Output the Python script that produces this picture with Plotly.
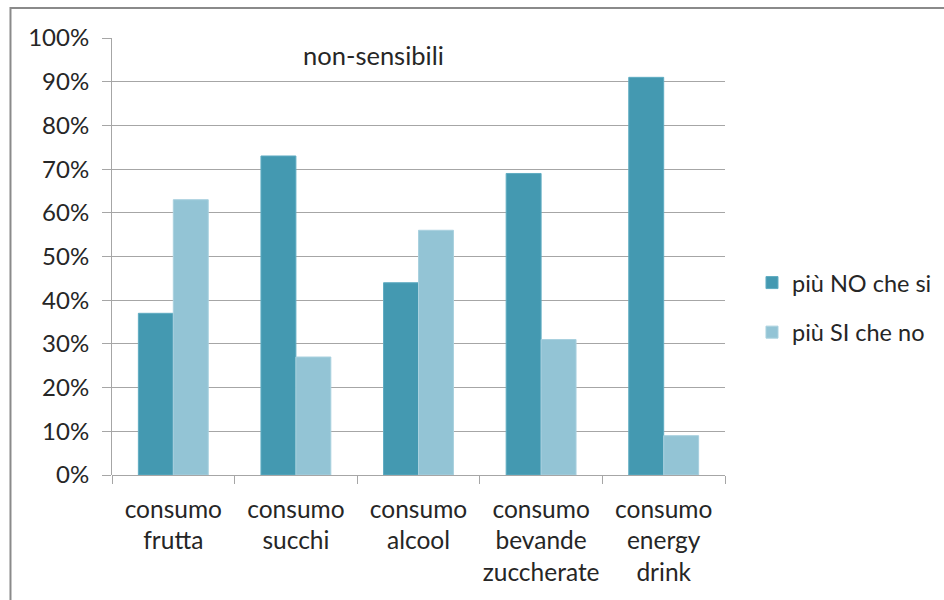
import plotly.graph_objects as go

# Categories and shares for the "non-sensibili" group
categories = [
    "consumo<br>frutta",
    "consumo<br>succhi",
    "consumo<br>alcool",
    "consumo<br>bevande<br>zuccherate",
    "consumo<br>energy<br>drink",
]
piu_no_che_si = [0.37, 0.73, 0.44, 0.69, 0.91]
piu_si_che_no = [0.63, 0.27, 0.56, 0.31, 0.09]
series_names = ["più NO che si", "più SI che no"]
y_ticks = [i / 10 for i in range(11)]

FONT = "Lato"
TEXT = "#262626"
GRID = "#A6A6A6"

fig = go.Figure()
fig.add_trace(go.Bar(
    x=categories, y=piu_no_che_si, name=series_names[0], legendgroup="a",
    marker=dict(color="#4499B1", line=dict(color="#5FACC2", width=1)),
))
fig.add_trace(go.Bar(
    x=categories, y=piu_si_che_no, name=series_names[1], legendgroup="b",
    marker=dict(color="#93C4D5", line=dict(color="#A9D1DF", width=1)),
))

fig.update_layout(
    width=944, height=600,
    margin=dict(l=112, r=219, t=38, b=125, autoexpand=False),
    paper_bgcolor="white", plot_bgcolor="white",
    font=dict(family=FONT, size=24, color=TEXT),
    barmode="group", bargap=0.43, bargroupgap=0,
    showlegend=True,
    legend=dict(
        xref="container", yref="container",
        x=0.7966, xanchor="left", y=0.487, yanchor="middle",
        font=dict(family=FONT, size=23.5, color=TEXT),
        tracegroupgap=16, bgcolor="rgba(0,0,0,0)",
    ),
    xaxis=dict(
        showgrid=False, showline=False, zeroline=False,
        ticks="outside", ticklen=8, tickcolor=GRID, tickwidth=1,
        tickson="boundaries", tickangle=0, automargin=False,
        tickfont=dict(family=FONT, size=24.5, color=TEXT),
        ticklabelstandoff=17,
    ),
    yaxis=dict(
        range=[0, 1], tickvals=y_ticks, tickformat=".0%",
        showgrid=True, gridcolor=GRID, gridwidth=1,
        showline=True, linecolor=GRID, linewidth=1,
        zeroline=True, zerolinecolor=GRID, zerolinewidth=1,
        ticks="outside", ticklen=9, tickcolor=GRID, tickwidth=1,
        automargin=False,
        tickfont=dict(family=FONT, size=24, color=TEXT),
        ticklabelstandoff=8,
    ),
    annotations=[dict(
        text="non-sensibili", xref="paper", yref="paper",
        x=0.4274, y=0.961, xanchor="center", yanchor="middle",
        showarrow=False, font=dict(family=FONT, size=25.5, color=TEXT),
    )],
    shapes=[dict(
        type="rect", xref="paper", yref="paper",
        x0=-0.1656, y0=-1.0, x1=2.0, y1=1.0686,
        line=dict(color="#8A8A8A", width=2), fillcolor="rgba(0,0,0,0)",
        layer="below",
    )],
)

fig.write_html("out.html")
